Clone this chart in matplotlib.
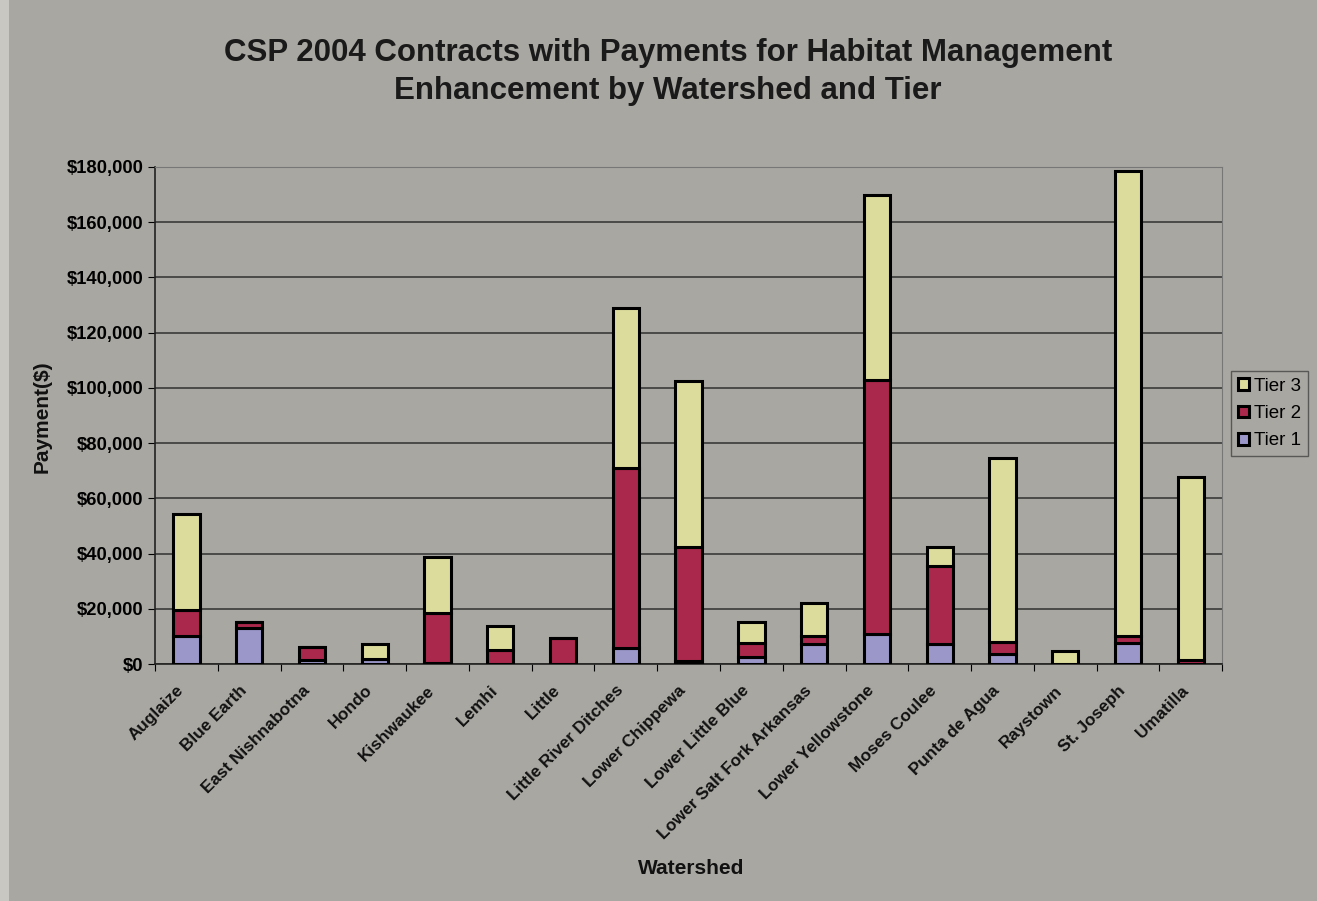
import matplotlib
matplotlib.use("Agg")
import matplotlib.pyplot as plt
from matplotlib.ticker import FuncFormatter
from matplotlib.patches import Rectangle
from matplotlib.transforms import ScaledTranslation
import numpy as np

plt.rcParams['font.family'] = ['Liberation Sans', 'DejaVu Sans']

watersheds = ["Auglaize", "Blue Earth", "East Nishnabotna", "Hondo", "Kishwaukee",
              "Lemhi", "Little", "Little River Ditches", "Lower Chippewa",
              "Lower Little Blue", "Lower Salt Fork Arkansas", "Lower Yellowstone",
              "Moses Coulee", "Punta de Agua", "Raystown", "St. Joseph", "Umatilla"]
tier1 = [10000, 13000, 1500, 2000, 300, 0, 0, 5800, 1000, 2500, 7200, 10900, 7200, 3600, 0, 7600, 0]
tier2 = [9600, 2200, 4700, 0, 18200, 5000, 9400, 65200, 41400, 5100, 2900, 92000, 28300, 4400, 0, 2500, 1500]
tier3 = [34700, 0, 0, 5200, 20300, 8800, 0, 57900, 60100, 7600, 12000, 67000, 6900, 66600, 4700, 168500, 66200]

c1 = "#9b97c9"
c2 = "#a9284c"
c3 = "#dcdc9c"
bg = "#a9a7a1"

fig = plt.figure(figsize=(13.17, 9.01), dpi=100, facecolor=bg)
ax = fig.add_axes([0.1177, 0.263, 0.8103, 0.5517])
ax.set_facecolor(bg)

x = np.arange(len(watersheds))
w = 0.42
t1 = np.array(tier1); t2 = np.array(tier2); t3 = np.array(tier3)
ax.bar(x, t1, w, color=c1, edgecolor="black", linewidth=2.2, label="Tier 1", zorder=3)
ax.bar(x, t2, w, bottom=t1, color=c2, edgecolor="black", linewidth=2.2, label="Tier 2", zorder=3)
ax.bar(x, t3, w, bottom=t1 + t2, color=c3, edgecolor="black", linewidth=2.2, label="Tier 3", zorder=3)

ax.set_xlim(-0.5, len(watersheds) - 0.5)
ax.set_ylim(0, 180000)
ax.set_yticks(np.arange(0, 180001, 20000))
ax.yaxis.set_major_formatter(FuncFormatter(lambda v, p: f"${int(v):,}"))
ax.grid(axis="y", color="#3a3a3a", linewidth=1.2, zorder=0)
ax.set_xticks(np.arange(-0.5, len(watersheds), 1))
ax.set_xticklabels([])
ax.tick_params(axis="x", which="major", length=5, direction="out")
ax.tick_params(axis="y", labelsize=13.2, length=5)
for lab in ax.get_yticklabels():
    lab.set_fontweight("bold")

off = ScaledTranslation(-5 / 100, -24 / 100, fig.dpi_scale_trans)
for xi, name in zip(x, watersheds):
    ax.text(xi, 0, name, transform=ax.get_xaxis_transform() + off,
            rotation=45, ha="right", va="center", rotation_mode="anchor",
            fontsize=12.3, fontweight="bold", color="#111111")

for s in ["top", "right"]:
    ax.spines[s].set_color("#777777")
ax.spines["left"].set_color("#222222")
ax.spines["bottom"].set_color("#222222")
ax.spines["left"].set_linewidth(1.2)
ax.spines["bottom"].set_linewidth(1.2)

fig.text(0.032, 0.538, "Payment($)", fontsize=15, fontweight="bold", ha="center",
         va="center", rotation=90, color="#111111")
fig.text(0.525, 0.036, "Watershed", fontsize=15, fontweight="bold", ha="center",
         va="center", color="#111111")

fig.text(0.507, 0.941, "CSP 2004 Contracts with Payments for Habitat Management",
         fontsize=22.5, fontweight="bold", ha="center", va="center", color="#1a1a1a")
fig.text(0.507, 0.899, "Enhancement by Watershed and Tier",
         fontsize=22.5, fontweight="bold", ha="center", va="center", color="#1a1a1a")

h, l = ax.get_legend_handles_labels()
leg = fig.legend(h[::-1], l[::-1], loc="upper left", bbox_to_anchor=(0.935, 0.588),
                 fontsize=13.5, frameon=True, handlelength=0.6, handleheight=0.6,
                 handletextpad=0.25, borderpad=0.35, labelspacing=0.55, fancybox=False,
                 borderaxespad=0)
leg.get_frame().set_facecolor(bg)
leg.get_frame().set_edgecolor("#444444")

fig.patches.append(Rectangle((0, 0), 0.007, 1, transform=fig.transFigure,
                             facecolor="#c8c7c2", edgecolor="none", zorder=-1))

fig.savefig("out.png", dpi=100, facecolor=bg)
